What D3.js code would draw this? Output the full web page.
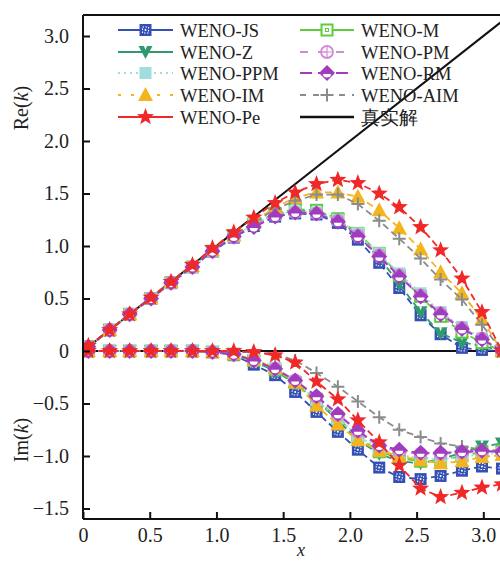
<!DOCTYPE html>
<html>
<head>
<meta charset="utf-8">
<script src="https://cdn.jsdelivr.net/npm/d3@7"></script>
<style>
  html, body { margin: 0; padding: 0; background: #fff; }
  svg { display: block; }
  text { font-family: "Liberation Serif", "DejaVu Serif", serif; fill: #222; }
</style>
</head>
<body>
<svg id="chart" width="500" height="562"></svg>
<script>
// Sample wavenumbers
const xs = [0.04, 0.20, 0.35, 0.51, 0.66, 0.82, 0.97, 1.13, 1.28, 1.44, 1.59,
            1.75, 1.91, 2.06, 2.22, 2.37, 2.53, 2.68, 2.84, 2.99, 3.14];

// Real part of modified wavenumber
const reJS  = [0.04,0.20,0.35,0.50,0.65,0.80,0.95,1.08,1.19,1.28,1.31,1.30,1.22,1.06,0.84,0.60,0.34,0.16,0.03,0.01,0];
const reZ   = [0.04,0.20,0.35,0.50,0.65,0.80,0.95,1.09,1.20,1.30,1.34,1.33,1.25,1.10,0.89,0.64,0.37,0.17,0.08,0.05,0];
const rePPM = [0.04,0.20,0.35,0.50,0.65,0.80,0.95,1.09,1.21,1.30,1.33,1.32,1.25,1.12,0.93,0.74,0.55,0.37,0.23,0.12,0];
const reIM  = [0.04,0.20,0.35,0.51,0.66,0.81,0.96,1.10,1.23,1.37,1.46,1.51,1.51,1.47,1.34,1.17,0.97,0.75,0.55,0.30,0];
const rePe  = [0.05,0.20,0.35,0.51,0.66,0.82,0.98,1.13,1.27,1.41,1.51,1.59,1.63,1.60,1.50,1.37,1.18,0.96,0.69,0.37,0];
const reM   = [0.04,0.20,0.35,0.50,0.65,0.80,0.95,1.10,1.21,1.31,1.35,1.34,1.26,1.12,0.93,0.72,0.52,0.33,0.18,0.08,0];
const rePM  = [0.04,0.20,0.35,0.50,0.65,0.80,0.95,1.09,1.20,1.29,1.32,1.31,1.24,1.10,0.91,0.72,0.53,0.36,0.22,0.12,0];
const reRM  = [0.04,0.20,0.35,0.50,0.65,0.80,0.95,1.09,1.18,1.28,1.32,1.31,1.23,1.09,0.90,0.71,0.52,0.35,0.21,0.11,0];
const reAIM = [0.04,0.20,0.35,0.51,0.66,0.81,0.96,1.10,1.22,1.35,1.43,1.49,1.49,1.40,1.24,1.07,0.88,0.68,0.49,0.25,0];

// Imaginary part of modified wavenumber
const imJS  = [0,0,0,0,0,0,-0.01,-0.04,-0.13,-0.23,-0.39,-0.58,-0.77,-0.94,-1.11,-1.20,-1.22,-1.19,-1.14,-1.10,-1.12];
const imZ   = [0,0,0,0,0,0,-0.01,-0.03,-0.10,-0.19,-0.31,-0.47,-0.66,-0.85,-0.98,-1.05,-1.07,-1.03,-0.97,-0.91,-0.88];
const imPPM = [0,0,0,0,0,0,-0.01,-0.03,-0.08,-0.16,-0.29,-0.47,-0.64,-0.81,-0.93,-0.99,-1.02,-1.03,-1.01,-0.98,-0.97];
const imIM  = [0,0,0,0,0,0,-0.01,-0.03,-0.08,-0.16,-0.30,-0.52,-0.70,-0.85,-0.95,-1.00,-1.04,-1.07,-1.05,-1.01,-0.99];
const imPe  = [0,0,0,0,0,0,0,0,-0.01,-0.04,-0.11,-0.29,-0.46,-0.66,-0.87,-1.09,-1.31,-1.39,-1.35,-1.30,-1.27];
const imM   = [0,0,0,0,0,0,-0.01,-0.03,-0.09,-0.18,-0.30,-0.46,-0.64,-0.82,-0.96,-1.02,-1.05,-1.04,-1.00,-0.96,-0.95];
const imPM  = [0,0,0,0,0,0,-0.01,-0.03,-0.09,-0.17,-0.28,-0.44,-0.61,-0.77,-0.91,-0.96,-0.98,-0.98,-0.97,-0.96,-0.96];
const imRM  = [0,0,0,0,0,0,-0.01,-0.03,-0.09,-0.17,-0.28,-0.43,-0.60,-0.76,-0.90,-0.94,-0.97,-0.97,-0.96,-0.95,-0.96];
const imAIM = [0,0,0,0,0,0,0,-0.01,-0.01,-0.03,-0.09,-0.21,-0.34,-0.48,-0.63,-0.75,-0.82,-0.88,-0.91,-0.94,-0.95];

// Exact solution: Re(k) = x, Im(k) = 0
const exactX  = [0, 3.2];
const exactRe = [0, 3.2];
const exactIm = [0, 0];

const xTicks = [0, 0.5, 1.0, 1.5, 2.0, 2.5, 3.0];
const yTicks = [3.0, 2.5, 2.0, 1.5, 1.0, 0.5, 0, -0.5, -1.0, -1.5];

const schemes = [
  { name: "WENO-JS",  re: reJS,  im: imJS,  color: "#3550b5", marker: "squareDots", legendDash: null },
  { name: "WENO-Z",   re: reZ,   im: imZ,   color: "#2f9a70", marker: "triDown",    legendDash: null },
  { name: "WENO-PPM", re: rePPM, im: imPPM, color: "#9fdede", marker: "square",     legendDash: "2,4" },
  { name: "WENO-IM",  re: reIM,  im: imIM,  color: "#f2b51e", marker: "triUp",      legendDash: "3,10" },
  { name: "WENO-Pe",  re: rePe,  im: imPe,  color: "#f02828", marker: "star",       legendDash: null },
  { name: "WENO-M",   re: reM,   im: imM,   color: "#5fcc3c", marker: "squareOpen", legendDash: null },
  { name: "WENO-PM",  re: rePM,  im: imPM,  color: "#d08ad6", marker: "circlePlus", legendDash: "8,10" },
  { name: "WENO-RM",  re: reRM,  im: imRM,  color: "#a23cbf", marker: "diamond",    legendDash: "12,6" },
  { name: "WENO-AIM", re: reAIM, im: imAIM, color: "#8c8c8c", marker: "plus",       legendDash: "6,7" }
];

const svg = d3.select("#chart");
const margin = { left: 83, top: 15, bottom: 519 };

const x = d3.scaleLinear().domain([0, 3.2]).range([margin.left, 510]);
const y = d3.scaleLinear().domain([-1.6, 3.2]).range([margin.bottom, margin.top]);

svg.append("defs").append("clipPath").attr("id", "plotClip")
  .append("rect")
  .attr("x", x(0)).attr("y", y(3.2))
  .attr("width", x(3.2) - x(0)).attr("height", y(-1.6) - y(3.2));

const plot = svg.append("g").attr("clip-path", "url(#plotClip)");

// Exact solution lines
const exactLine = d3.line().x(d => x(d[0])).y(d => y(d[1]));
plot.append("path")
  .attr("d", exactLine(exactX.map((v, i) => [v, exactRe[i]])))
  .attr("fill", "none").attr("stroke", "#111").attr("stroke-width", 2);
plot.append("path")
  .attr("d", exactLine(exactX.map((v, i) => [v, exactIm[i]])))
  .attr("fill", "none").attr("stroke", "#111").attr("stroke-width", 2);

// Marker painter
function drawMarker(g, type, color, cx, cy) {
  const m = g.append("g").attr("transform", `translate(${cx},${cy})`);
  switch (type) {
    case "squareDots":
      m.append("rect").attr("x", -6).attr("y", -6).attr("width", 12).attr("height", 12)
        .attr("fill", color);
      m.append("rect").attr("x", -3).attr("y", -3).attr("width", 6).attr("height", 6)
        .attr("fill", "none").attr("stroke", "#fff").attr("stroke-width", 1).attr("stroke-dasharray", "1.5,1.5");
      m.append("circle").attr("r", 1).attr("fill", "#fff");
      break;
    case "triDown":
      m.append("path").attr("d", "M-7,-6L7,-6L0,7Z").attr("fill", color);
      m.append("path").attr("d", "M-1.5,-6L1.5,-6L0,-2Z").attr("fill", "#fff");
      break;
    case "square":
      m.append("rect").attr("x", -6).attr("y", -6).attr("width", 12).attr("height", 12)
        .attr("fill", color);
      break;
    case "triUp":
      m.append("path").attr("d", "M0,-8L7.5,6L-7.5,6Z").attr("fill", color);
      break;
    case "star": {
      const pts = [];
      for (let k = 0; k < 10; k++) {
        const r = k % 2 === 0 ? 9 : 3.8;
        const a = -Math.PI / 2 + k * Math.PI / 5;
        pts.push([r * Math.cos(a), r * Math.sin(a)]);
      }
      m.append("path").attr("d", "M" + pts.map(p => p.join(",")).join("L") + "Z").attr("fill", color);
      break;
    }
    case "squareOpen":
      m.append("rect").attr("x", -5.5).attr("y", -5.5).attr("width", 11).attr("height", 11)
        .attr("fill", "#fff").attr("stroke", color).attr("stroke-width", 2);
      m.append("rect").attr("x", -1.5).attr("y", -1.5).attr("width", 3).attr("height", 3)
        .attr("fill", "none").attr("stroke", color).attr("stroke-width", 1);
      break;
    case "circlePlus":
      m.append("circle").attr("r", 6).attr("fill", "#fff").attr("fill-opacity", 0.5)
        .attr("stroke", color).attr("stroke-width", 1.8);
      m.append("path").attr("d", "M-6,0H6M0,-6V6").attr("stroke", color).attr("stroke-width", 1.2);
      break;
    case "diamond":
      m.append("path").attr("d", "M0,-8L8,0L0,8L-8,0Z").attr("fill", color);
      m.append("path").attr("d", "M-4,1A4,3.5 0 0 0 4,1Z").attr("fill", "#fff");
      break;
    case "plus":
      m.append("path").attr("d", "M-6.5,0H6.5M0,-6.5V6.5").attr("stroke", color).attr("stroke-width", 2);
      break;
  }
}

const curve = d3.line().x(d => x(d[0])).y(d => y(d[1]));
const drawOrder = ["WENO-JS", "WENO-Z", "WENO-M", "WENO-PPM", "WENO-PM", "WENO-IM", "WENO-AIM", "WENO-RM", "WENO-Pe"];

drawOrder.forEach(name => {
  const s = schemes.find(d => d.name === name);
  [s.re, s.im].forEach(vals => {
    const pts = xs.map((v, i) => [v, vals[i]]);
    const g = plot.append("g");
    g.append("path").attr("d", curve(pts))
      .attr("fill", "none").attr("stroke", s.color).attr("stroke-width", 1.8)
      .attr("stroke-dasharray", s.name === "WENO-PPM" ? "2,3" : "7,4");
    pts.forEach(p => drawMarker(g, s.marker, s.color, x(p[0]), y(p[1])));
  });
});

// Axes (ticks point inward)
const axisG = svg.append("g");
axisG.append("line").attr("x1", x(0)).attr("x2", 510).attr("y1", margin.top).attr("y2", margin.top)
  .attr("stroke", "#111").attr("stroke-width", 2);

const yAxis = d3.axisLeft(y).tickValues(yTicks).tickSize(-7).tickPadding(14)
  .tickFormat(d => d === 0 ? "0" : (d < 0 ? "\u2212" : "") + d3.format(".1f")(Math.abs(d)));
const yg = svg.append("g").attr("transform", `translate(${x(0)},0)`).call(yAxis);
yg.select(".domain").attr("d", `M0,${margin.top}V${margin.bottom}`).attr("stroke", "#111").attr("stroke-width", 2);
yg.selectAll(".tick line").attr("stroke", "#111").attr("stroke-width", 2);
yg.selectAll(".tick text").attr("font-size", 20).attr("font-family", "Liberation Serif, serif").attr("fill", "#333");

const xAxis = d3.axisBottom(x).tickValues(xTicks).tickSize(-7).tickPadding(9)
  .tickFormat(d => d === 0 ? "0" : d3.format(".1f")(d));
const xg = svg.append("g").attr("transform", `translate(0,${margin.bottom})`).call(xAxis);
xg.select(".domain").attr("d", `M${x(0)},0H510`).attr("stroke", "#111").attr("stroke-width", 2);
xg.selectAll(".tick line").attr("stroke", "#111").attr("stroke-width", 2);
xg.selectAll(".tick text").attr("font-size", 20).attr("font-family", "Liberation Serif, serif").attr("fill", "#333");

// Axis titles
function axisTitle(label, cx, cy) {
  const t = svg.append("text").attr("transform", `translate(${cx},${cy}) rotate(-90)`)
    .attr("text-anchor", "middle").attr("font-size", 20).attr("fill", "#333");
  t.append("tspan").text(label + "(");
  t.append("tspan").attr("font-style", "italic").text("k");
  t.append("tspan").text(")");
}
axisTitle("Re", 28, 108);
axisTitle("Im", 28, 440);
svg.append("text").attr("x", 301).attr("y", 556).attr("text-anchor", "middle")
  .attr("font-size", 18).attr("font-style", "italic").attr("fill", "#333").text("x");

// Legend
const legendItems = schemes.concat([{ name: "真实解", color: "#111", marker: null, legendDash: null }]);
const rowY = [30, 52, 73, 95, 117];
legendItems.forEach((s, i) => {
  const col = i < 5 ? 0 : 1;
  const row = i < 5 ? i : i - 5;
  const x0 = col === 0 ? 118 : 300;
  const len = col === 0 ? 55 : 54;
  const cy = rowY[row];
  const g = svg.append("g");
  g.append("line").attr("x1", x0).attr("x2", x0 + len).attr("y1", cy).attr("y2", cy)
    .attr("stroke", s.color).attr("stroke-width", s.marker ? 2 : 2.5)
    .attr("stroke-dasharray", s.legendDash);
  if (s.marker) drawMarker(g, s.marker, s.color, x0 + len / 2, cy);
  g.append("text").attr("x", col === 0 ? 180 : 361).attr("y", cy + 6.5)
    .attr("font-size", 18.5)
    .attr("font-family", s.marker ? "Liberation Serif, serif" : "Noto Sans CJK SC, sans-serif")
    .attr("fill", "#333").text(s.name);
});
</script>
</body>
</html>
